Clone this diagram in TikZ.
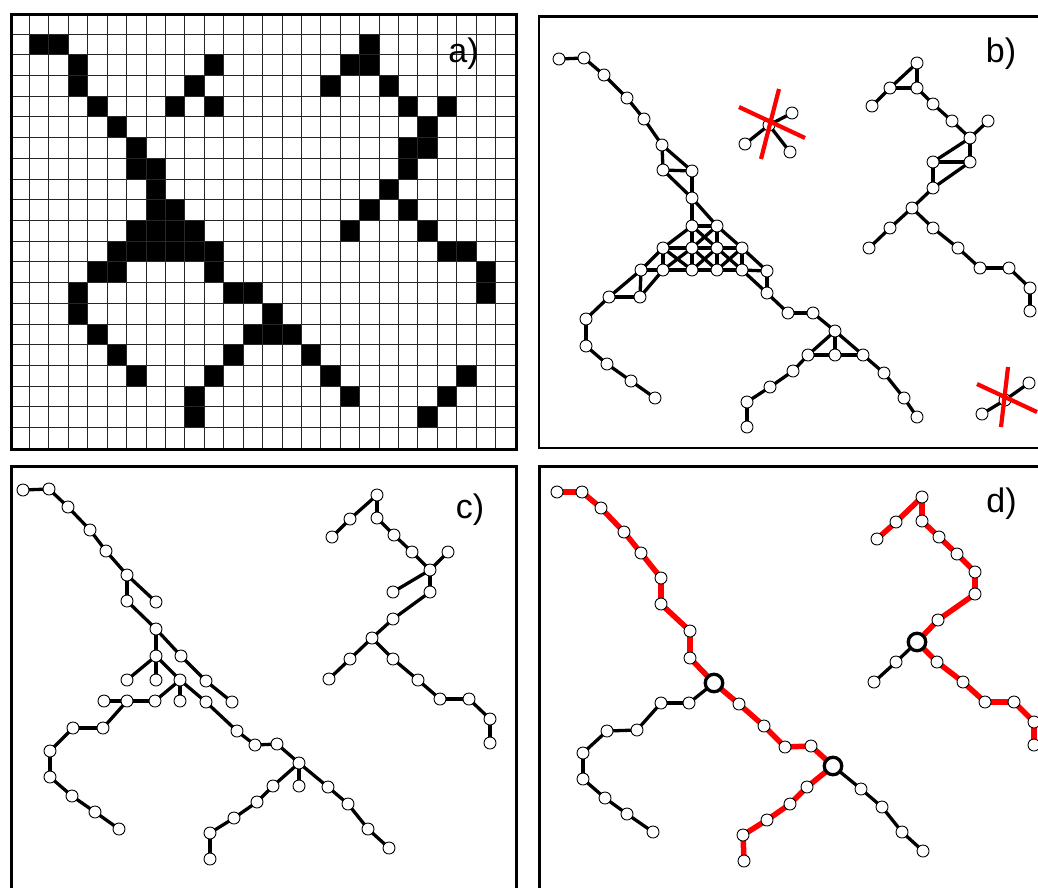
\documentclass[tikz,border=0pt]{standalone}
\usepackage{fontspec}
\setsansfont{Liberation Sans}
\usetikzlibrary{calc, backgrounds}

\begin{document}
\begin{tikzpicture}[
    x=1pt, y=-1pt,
    panel/.style={draw=black, line width=2.6pt},
    gridln/.style={draw=black!85, line width=0.8pt},
    vtx/.style={circle, draw=black, line width=0.9pt, fill=white, inner sep=0pt, minimum size=12pt},
    hub/.style={circle, draw=black, line width=3.3pt, fill=white, inner sep=0pt, minimum size=17.5pt},
    link/.style={line width=3.3pt, black},
    redlink/.style={line width=5.5pt, red},
    cut/.style={line width=4.2pt, red},
    tag/.style={font=\sffamily\fontsize{34}{40}\selectfont, inner sep=0pt},
]
\useasboundingbox (0,0) rectangle (1038,887);

% ================= a) pixel grid =================
\foreach \c/\r in {1/1,2/1,18/1, 3/2,10/2,17/2,18/2, 3/3,9/3,16/3,19/3,
    4/4,8/4,10/4,20/4,22/4, 5/5,21/5, 6/6,20/6,21/6, 6/7,7/7,20/7, 7/8,19/8,
    7/9,8/9,18/9,20/9, 6/10,7/10,8/10,9/10,17/10,21/10,
    5/11,6/11,7/11,8/11,9/11,10/11,22/11,23/11, 4/12,5/12,10/12,24/12,
    3/13,11/13,12/13,24/13, 3/14,13/14, 4/15,12/15,13/15,14/15,
    5/16,11/16,15/16, 6/17,10/17,16/17,23/17, 9/18,17/18,22/18, 9/19,21/19}
    \fill ({10+\c*19.423},{13.3+\r*20.714}) rectangle ++(19.423,20.714);
\foreach \i in {1,...,25}
    \draw[gridln] ({10+\i*19.423},13.3) -- ++(0,435);
\foreach \j in {1,...,20}
    \draw[gridln] (10,{13.3+\j*20.714}) -- ++(505,0);
\node[panel, rectangle, minimum width=505pt, minimum height=435pt, anchor=north west] (pa) at (10,13.3) {};
\node[tag] (la) at (463.5,54) {a)};

% ================= b) pixel graph =================
\node[panel, rectangle, minimum width=520pt, minimum height=431.5pt, anchor=north west] (pb) at (537.5,15) {};
\foreach \n/\x/\y in {b1/559/59, b2/584/58, b3/604/75, b4/627/98, b5/644/119,
    b6/662/145, b7/663/170, b8/692/171, b9/692/198, b10/692/226, b11/717/226,
    b12/663/248, b13/692/248, b14/717/248, b15/742/248,
    b16/641/270, b17/663/270, b18/692/270, b19/717/270, b20/742/270, b21/767/271,
    b22/609/297, b23/640/297, b24/767/293, b25/586/319, b26/586/346, b27/607/364,
    b28/631/381, b29/655/398, b30/788/313, b31/813/313, b32/835/331, b33/808/355,
    b34/835/355, b35/863/355, b36/793/371, b37/770/387, b38/747/402, b39/747/427,
    b40/884/373, b41/904/398, b42/917/417,
    b43/917/63, b44/890/88, b45/917/88, b46/872/106, b47/933/104, b48/952/121,
    b49/988/121, b50/970/138, b51/933/162, b52/970/162, b53/933/188, b54/912/208,
    b55/890/228, b56/933/228, b57/869/248, b58/958/248, b59/980/268, b60/1009/268,
    b61/1030/288, b62/1030/311,
    b63/769/125, b64/792/113, b65/745/144, b66/790/152,
    b67/1005/400, b68/1029/383, b69/982/414}
    \node[vtx] (\n) at (\x,\y) {};
\begin{scope}[on background layer]
\foreach \u/\v in {b1/b2, b2/b3, b3/b4, b4/b5, b5/b6, b6/b7, b6/b8, b7/b8, b7/b9,
    b8/b9, b9/b10, b9/b11, b10/b11, b10/b12, b10/b13, b10/b14, b11/b13, b11/b14,
    b11/b15, b12/b13, b13/b14, b14/b15, b12/b16, b12/b17, b12/b18, b13/b17,
    b13/b18, b13/b19, b14/b18, b14/b19, b14/b20, b15/b19, b15/b20, b15/b21,
    b16/b17, b17/b18, b18/b19, b19/b20, b20/b21, b16/b22, b16/b23, b17/b23,
    b22/b23, b21/b24, b20/b24, b22/b25, b25/b26, b26/b27, b27/b28, b28/b29,
    b24/b30, b30/b31, b31/b32, b32/b33, b32/b34, b32/b35, b33/b34, b34/b35,
    b33/b36, b36/b37, b37/b38, b38/b39, b35/b40, b40/b41, b41/b42,
    b43/b44, b43/b45, b44/b45, b44/b46, b45/b47, b47/b48, b48/b50, b49/b50,
    b50/b51, b50/b52, b51/b52, b51/b53, b52/b53, b53/b54, b54/b55, b54/b56,
    b55/b57, b56/b58, b58/b59, b59/b60, b60/b61, b61/b62,
    b63/b64, b63/b65, b63/b66, b67/b68, b67/b69}
    \draw[link] (\u.center) -- (\v.center);
\end{scope}
% small pieces removed
\draw[cut] ($(b63)+(-30,-18)$) -- ($(b63)+(36,13)$);
\draw[cut] ($(b63)+(10,-36)$) -- ($(b63)+(-8,34)$);
\draw[cut] ($(b67)+(-28,-16)$) -- ($(b67)+(32,12)$);
\draw[cut] ($(b67)+(3,-33)$) -- ($(b67)+(-4,27)$);
\node[tag] (lb) at (1001,53.5) {b)};

% ================= c) skeleton tree =================
\node[panel, rectangle, minimum width=505pt, minimum height=430pt, anchor=north west] (pc) at (10,465) {};
\foreach \n/\x/\y in {c1/23/490, c2/49/489, c3/68/507, c4/90/530, c5/106/551,
    c6/127/575, c7/127/601, c8/156/602, c9/156/629, c10/181/656, c11/156/656,
    c12/127/680, c13/156/680, c14/180/680, c15/206/681, c16/104/701, c17/127/701,
    c18/155/701, c19/180/701, c20/206/702, c21/232/702, c22/73/728, c23/103/728,
    c24/50/751, c25/50/777, c26/72/796, c27/95/812, c28/119/829, c29/237/731,
    c30/255/745, c31/277/744, c32/299/763, c33/273/786, c34/299/786, c35/257/802,
    c36/234/818, c37/210/833, c38/210/859, c39/328/787, c40/348/804, c41/368/829,
    c42/389/848,
    c43/377/495, c44/350/519, c45/332/537, c46/377/518, c47/394/535, c48/412/552,
    c49/448/552, c50/430/570, c51/393/592, c52/430/592, c53/393/619, c54/372/638,
    c55/350/659, c56/393/659, c57/329/679, c58/418/680, c59/440/699, c60/469/699,
    c61/490/719, c62/490/743}
    \node[vtx] (\n) at (\x,\y) {};
\begin{scope}[on background layer]
\foreach \u/\v in {c1/c2, c2/c3, c3/c4, c4/c5, c5/c6, c6/c7, c6/c8, c7/c9,
    c9/c10, c9/c11, c11/c12, c11/c13, c11/c14, c10/c15, c15/c21, c14/c18,
    c14/c19, c14/c20, c18/c17, c17/c16, c17/c23, c23/c22, c22/c24, c24/c25,
    c25/c26, c26/c27, c27/c28, c20/c29, c29/c30, c30/c31, c31/c32, c32/c33,
    c32/c34, c32/c39, c33/c35, c35/c36, c36/c37, c37/c38, c39/c40, c40/c41,
    c41/c42,
    c43/c44, c44/c45, c43/c46, c46/c47, c47/c48, c48/c50, c49/c50, c50/c51,
    c50/c52, c52/c53, c53/c54, c54/c55, c55/c57, c54/c56, c56/c58, c58/c59,
    c59/c60, c60/c61, c61/c62}
    \draw[link] (\u.center) -- (\v.center);
\end{scope}
\node[tag] (lc) at (470,510) {c)};

% ================= d) longest paths =================
\node[panel, rectangle, minimum width=520pt, minimum height=430pt, anchor=north west] (pd) at (538.3,465) {};
\foreach \n/\x/\y in {d1/557/492, d2/582/492, d3/601/508, d4/624/532, d5/641/553,
    d6/661/578, d7/661/604, d8/690/631, d9/690/658, d11/689/703, d12/661/703,
    d13/637/730, d14/607/731, d15/583/753, d16/583/779, d17/605/798, d18/627/814,
    d19/653/832, d20/739/704, d21/764/726, d22/785/747, d23/811/746, d25/807/787,
    d26/790/804, d27/767/820, d28/743/835, d29/744/861, d30/861/789, d31/882/807,
    d32/902/832, d33/923/851,
    d34/922/497, d35/896/522, d36/877/539, d37/922/521, d38/939/537, d39/957/554,
    d40/975/572, d41/975/594, d42/938/620, d44/896/662, d45/874/682, d46/937/662,
    d47/963/682, d48/985/702, d49/1014/702, d50/1034/722, d51/1034/745}
    \node[vtx] (\n) at (\x,\y) {};
% branch points
\foreach \n/\x/\y in {d10/714/683, d24/833/766, d43/917/642}
    \node[hub] (\n) at (\x,\y) {};
\begin{scope}[on background layer]
\foreach \u/\v in {d10/d11, d11/d12, d12/d13, d13/d14, d14/d15, d15/d16,
    d16/d17, d17/d18, d18/d19, d24/d30, d30/d31, d31/d32, d32/d33, d43/d44, d44/d45}
    \draw[link] (\u.center) -- (\v.center);
\foreach \u/\v in {d1/d2, d2/d3, d3/d4, d4/d5, d5/d6, d6/d7, d7/d8, d8/d9,
    d9/d10, d10/d20, d20/d21, d21/d22, d22/d23, d23/d24, d24/d25, d25/d26,
    d26/d27, d27/d28, d28/d29,
    d36/d35, d35/d34, d34/d37, d37/d38, d38/d39, d39/d40, d40/d41, d41/d42,
    d42/d43, d43/d46, d46/d47, d47/d48, d48/d49, d49/d50, d50/d51}
    \draw[redlink] (\u.center) -- (\v.center);
\end{scope}
\node[tag] (ld) at (1001.5,504) {d)};

\end{tikzpicture}
\end{document}
